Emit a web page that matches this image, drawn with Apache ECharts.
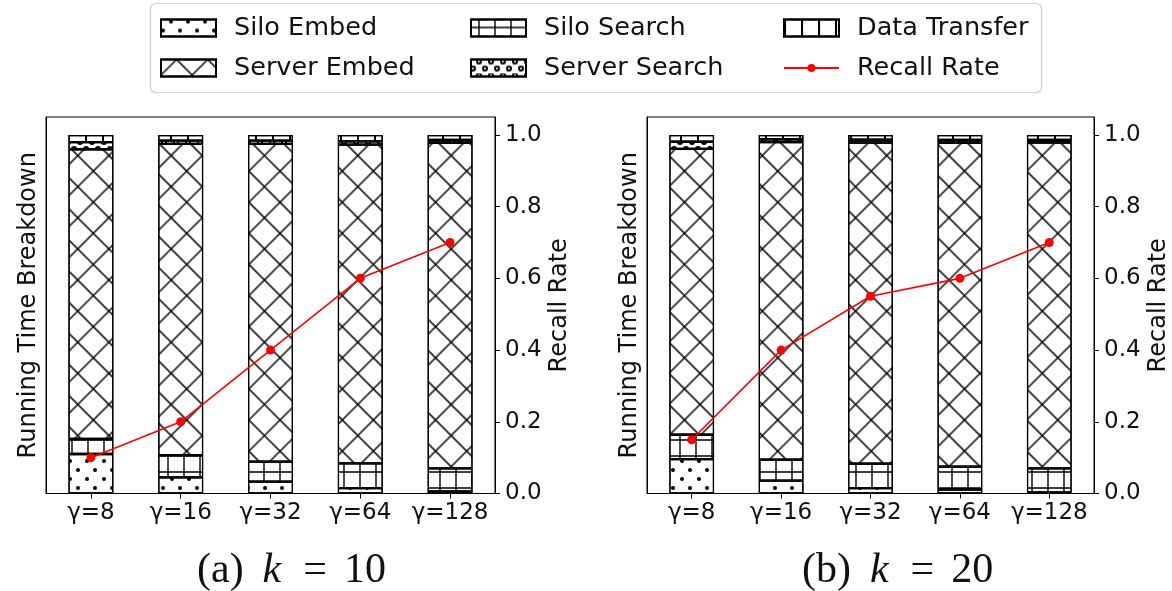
<!DOCTYPE html>
<html><head><meta charset="utf-8">
<script src="https://cdn.jsdelivr.net/npm/echarts@6/dist/echarts.min.js"></script>
<style>html,body{margin:0;padding:0;background:#fff}#c{width:1172px;height:591px}</style>
</head><body><div id="c"></div>
<script>
// ---- data ----
const categories = ['γ=8', 'γ=16', 'γ=32', 'γ=64', 'γ=128'];
const recallTicks = [0, 0.2, 0.4, 0.6, 0.8, 1.0];

// panel (a) k = 10  (fractions of running time, bottom to top)
const siloEmbedA    = [0.110, 0.045, 0.033, 0.015, 0.006];
const siloSearchA   = [0.042, 0.062, 0.056, 0.069, 0.064];
const serverEmbedA  = [0.808, 0.868, 0.886, 0.889, 0.908];
const serverSearchA = [0.020, 0.009, 0.009, 0.009, 0.008];
const dataTransferA = [0.020, 0.016, 0.016, 0.018, 0.014];
const recallA       = [0.10, 0.20, 0.40, 0.60, 0.70];

// panel (b) k = 20
const siloEmbedB    = [0.096, 0.036, 0.015, 0.011, 0.003];
const siloSearchB   = [0.068, 0.058, 0.068, 0.064, 0.067];
const serverEmbedB  = [0.797, 0.886, 0.896, 0.903, 0.909];
const serverSearchB = [0.020, 0.008, 0.008, 0.008, 0.007];
const dataTransferB = [0.019, 0.012, 0.013, 0.014, 0.014];
const recallB       = [0.15, 0.40, 0.55, 0.60, 0.70];

const captionA = ['(a)', 'k', '=', '10'];
const captionB = ['(b)', 'k', '=', '20'];

// ---- styling ----
const INK = '#000';
const TXT = '#111';
const decals = {
  'Silo Embed':   {symbol: 'circle', symbolSize: 1, dashArrayX: [[3.5, 12.5], [0, 8, 3.5, 4.5]], dashArrayY: [3.5, 4.5], color: INK},
  'Silo Search':  {symbol: 'path://M0,7.3H16V8.7H0Z M7.3,0H8.7V16H7.3Z', symbolSize: 1, dashArrayX: [16, 0], dashArrayY: [16, 0], color: INK},
  'Server Embed': {symbol: 'path://M0,10.3H22V11.7H0Z M10.3,0H11.7V22H10.3Z', symbolSize: 1, dashArrayX: [22, 0], dashArrayY: [22, 0], rotation: Math.PI / 4, color: INK},
  'Server Search':{symbol: 'emptyCircle', symbolSize: 1, dashArrayX: [[4, 8], [0, 6, 4, 2]], dashArrayY: [4, 3], color: INK},
  'Data Transfer':{symbol: 'rect', symbolSize: 1, dashArrayX: [1.3, 14.2], dashArrayY: [4, 0], color: INK}
};

const panels = [
  {stack: [siloEmbedA, siloSearchA, serverEmbedA, serverSearchA, dataTransferA], recall: recallA, left: 46},
  {stack: [siloEmbedB, siloSearchB, serverEmbedB, serverSearchB, dataTransferB], recall: recallB, left: 647}
];
const stackNames = ['Silo Embed', 'Silo Search', 'Server Embed', 'Server Search', 'Data Transfer'];

const grids = [], xAxes = [], yAxes = [], series = [];
panels.forEach((p, i) => {
  grids.push({left: p.left, top: 117, width: 449, height: 376.5, show: true, borderColor: INK, borderWidth: 1, backgroundColor: 'transparent'});
  xAxes.push({
    type: 'category', gridIndex: i, data: categories,
    axisLine: {show: true, lineStyle: {color: INK, width: 1}},
    axisTick: {show: true, alignWithLabel: true, length: 5, lineStyle: {color: INK}},
    axisLabel: {color: TXT, fontSize: 23, margin: 8, interval: 0, hideOverlap: false, fontFamily: 'DejaVu Sans'}
  });
  yAxes.push({
    type: 'value', gridIndex: i, position: 'left', min: 0, max: 1.05,
    axisLine: {show: true, lineStyle: {color: INK}},
    axisTick: {show: false}, axisLabel: {show: false}, splitLine: {show: false},
    name: 'Running Time Breakdown', nameLocation: 'middle', nameGap: 5,
    nameTextStyle: {fontSize: 24, color: TXT, fontFamily: 'DejaVu Sans'}
  });
  yAxes.push({
    type: 'value', gridIndex: i, position: 'right', min: 0, max: 1.05, interval: 0.2,
    axisLine: {show: true, lineStyle: {color: INK}},
    axisTick: {show: true, length: 5, customValues: recallTicks, lineStyle: {color: INK}},
    axisLabel: {show: true, color: TXT, fontSize: 23, margin: 10, fontFamily: 'DejaVu Sans', customValues: recallTicks,
      formatter: v => Number(v).toFixed(1)},
    splitLine: {show: false},
    name: 'Recall Rate', nameLocation: 'middle', nameGap: 53,
    nameTextStyle: {fontSize: 24, color: TXT, fontFamily: 'DejaVu Sans'}
  });
  stackNames.forEach((n, k) => {
    series.push({
      type: 'bar', name: n, xAxisIndex: i, yAxisIndex: 2 * i, stack: 'p' + i,
      data: p.stack[k], barWidth: '50%',
      itemStyle: {color: '#fff', borderColor: INK, borderWidth: 1.2, decal: decals[n]},
      emphasis: {disabled: true}, z: 2
    });
  });
  series.push({
    type: 'line', name: 'Recall Rate', xAxisIndex: i, yAxisIndex: 2 * i + 1,
    data: p.recall, symbol: 'circle', symbolSize: 9, showSymbol: true,
    itemStyle: {color: '#ff0000'}, lineStyle: {color: '#ff0000', width: 1.6},
    emphasis: {disabled: true}, z: 10
  });
});

const legendPos = [
  {name: 'Silo Embed', left: 160, top: 15},
  {name: 'Server Embed', left: 160, top: 55},
  {name: 'Silo Search', left: 470, top: 15},
  {name: 'Server Search', left: 470, top: 55},
  {name: 'Data Transfer', left: 783, top: 15},
  {name: 'Recall Rate', left: 783, top: 55}
];
const legends = legendPos.map(l => ({
  left: l.left, top: l.top, padding: 0, orient: 'vertical',
  itemWidth: 55, itemHeight: l.name === 'Recall Rate' ? 10 : 17,
  selectedMode: false,
  data: [l.name === 'Recall Rate' ? {name: l.name} : {name: l.name, icon: 'rect'}],
  textStyle: {fontSize: 25.5, color: TXT, fontFamily: 'DejaVu Sans', lineHeight: 26, padding: [0, 0, 0, 13]}
}));

function caption(parts, x) {
  const serif = 'Liberation Serif';
  return {
    type: 'text', x: x, y: 571, z: 10,
    style: {
      text: '{p|' + parts[0] + '}{k|' + parts[1] + '}{e|' + parts[2] + '}{d|' + parts[3] + '}',
      align: 'left', verticalAlign: 'middle',
      rich: {
        p: {fontFamily: serif, fontSize: 42, fill: TXT},
        k: {fontFamily: serif, fontSize: 42, fontStyle: 'italic', fill: TXT, padding: [0, 0, 0, 19]},
        e: {fontFamily: serif, fontSize: 42, fill: TXT, padding: [0, 0, 0, 22]},
        d: {fontFamily: serif, fontSize: 42, fill: TXT, padding: [0, 0, 0, 17]}
      }
    }
  };
}

const option = {
  backgroundColor: '#fff',
  animation: false,
  textStyle: {fontFamily: 'DejaVu Sans'},
  graphic: [
    {type: 'rect', z: -1, shape: {x: 150.5, y: 3.5, width: 891, height: 89, r: 5},
     style: {fill: '#fff', stroke: '#cfcfcf', lineWidth: 1.2}},
    caption(captionA, 197),
    caption(captionB, 802)
  ],
  legend: legends,
  grid: grids,
  xAxis: xAxes,
  yAxis: yAxes,
  series: series
};

const chart = echarts.init(document.getElementById('c'), null, {renderer: 'canvas'});
chart.setOption(option);
</script>
</body></html>
